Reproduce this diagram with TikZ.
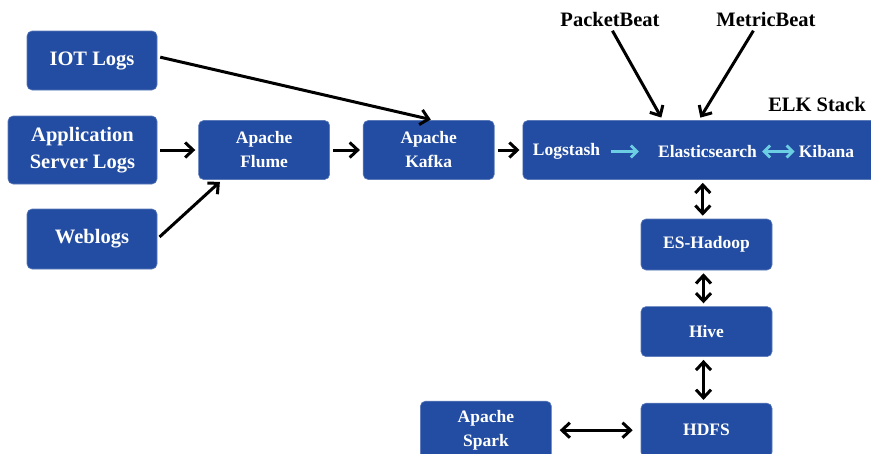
\documentclass[tikz,border=0pt]{standalone}
\usepackage{fontspec}
\setmainfont{Liberation Serif}
\usetikzlibrary{arrows.meta, positioning, calc}
\definecolor{boxblue}{RGB}{35,77,162}
\definecolor{lightcyan}{RGB}{108,206,226}

\begin{document}
\begin{tikzpicture}[x=1pt, y=-1pt,
  box/.style={draw=boxblue!75!white, line width=0.6pt, rounded corners=5pt,
              fill=boxblue, text=white, align=center, inner sep=0pt,
              minimum width=131pt, minimum height=59pt,
              font=\bfseries\fontsize{17.5}{24}\selectfont},
  srcbox/.style={box, font=\bfseries\fontsize{20.5}{27}\selectfont},
  elkitem/.style={text=white, inner sep=0pt, font=\bfseries\fontsize{17.5}{21}\selectfont},
  beat/.style={inner sep=0pt, font=\bfseries\fontsize{20.5}{24}\selectfont},
  arr/.style={-{Straight Barb[length=8pt,width=15pt]}, line width=3pt,
              shorten <=3pt, shorten >=3pt},
  dbl/.style={arr, {Straight Barb[length=8pt,width=15pt]}-{Straight Barb[length=8pt,width=15pt]}},
  carr/.style={-{Straight Barb[length=6pt,width=12pt]}, line width=2.8pt, lightcyan},
  dblc/.style={carr, {Straight Barb[length=6pt,width=12pt]}-{Straight Barb[length=6pt,width=12pt]}}
]
\clip (0,0) rectangle (871,453);

% log sources
\node[srcbox, minimum width=130pt] (iot) at (92,60.5) {IOT Logs};
\node[srcbox, minimum width=149pt, minimum height=68pt] (app) at (82.5,150) {Application\\Server Logs};
\node[srcbox, minimum width=130pt, minimum height=60pt] (web) at (92,239) {Weblogs};

% ingestion
\node[box, right=41pt of app] (flume) {Apache\\Flume};
\node[box, right=33pt of flume] (kafka) {Apache\\Kafka};

% ELK stack
\node[box, right=28pt of kafka, minimum width=360pt] (elk) {};
\node[elkitem] (logstash) at ($(elk.west)+(44,1.5)$) {Logstash};
\node[elkitem] (es) at ($(elk.west)+(185,1.5)$) {Elasticsearch};
\node[elkitem] (kibana) at ($(elk.west)+(304,1.5)$) {Kibana};
\node[beat] (stack) at (817,104) {ELK Stack};
\node[beat] (pb) at (610,19) {PacketBeat};
\node[beat] (mb) at (766,19) {MetricBeat};

% hadoop side
\node[box, minimum height=51pt] (esh) at (706.5,244.5) {ES-Hadoop};
\node[box, minimum height=50pt, below=36pt of esh] (hive) {Hive};
\node[box, minimum height=54pt, below=46pt of hive] (hdfs) {HDFS};
\node[box, minimum height=58pt, left=89pt of hdfs] (spark) {Apache\\Spark};

\draw[arr] ([yshift=4pt]iot.east) -- ([xshift=5pt]kafka.north);
\draw[arr] (app) -- (flume);
\draw[arr] (web.east) -- ([xshift=-42pt]flume.south);
\draw[arr] (flume) -- (kafka);
\draw[arr] (kafka) -- (elk);
\draw[arr, shorten <=5pt] (pb.south) -- ([xshift=-40pt]elk.north);
\draw[arr, shorten <=5pt] ([xshift=-10pt]mb.south) -- ([xshift=-4pt]elk.north);
\draw[carr, shorten <=11pt, shorten >=19pt] (logstash.east) -- (es.west);
\draw[dblc, shorten <=5pt, shorten >=4pt] (es.east) -- (kibana.west);

\draw[dbl] (elk.south) -- (elk.south |- esh.north);
\draw[dbl] ([xshift=-3pt]esh.south) -- ([xshift=-3pt]hive.north);
\draw[dbl] ([xshift=-3pt]hive.south) -- ([xshift=-3pt]hdfs.north);
\draw[dbl, shorten <=8pt, shorten >=8pt] (spark) -- (hdfs);
\end{tikzpicture}
\end{document}
